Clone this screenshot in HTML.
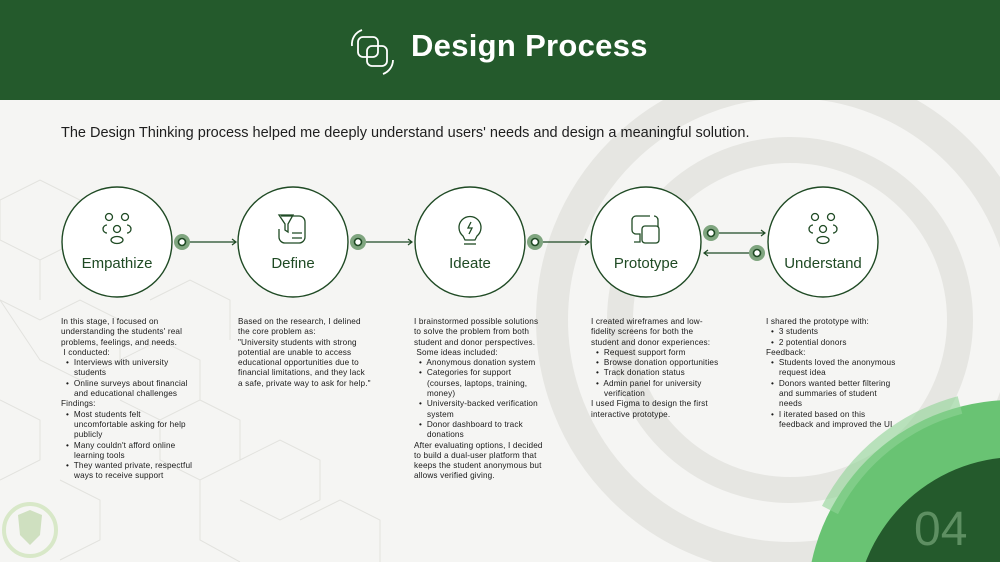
<!DOCTYPE html>
<html><head><meta charset="utf-8"><style>
body{margin:0;width:1000px;height:562px;overflow:hidden;background:#f5f5f3;font-family:"Liberation Sans",sans-serif;position:relative}
.title{position:absolute;left:411px;top:28px;color:#fff;font-size:31px;font-weight:bold;letter-spacing:0.3px}
.sub{position:absolute;left:61px;top:125px;font-size:14.5px;color:#1e1e1e}
.lbl{position:absolute;width:120px;text-align:center;font-size:15px;color:#1f4a24;top:255px}
.txt{position:absolute;font-size:8.2px;line-height:10.3px;color:#1a1a1a;top:317px;white-space:nowrap;letter-spacing:0.15px}
.i{padding-left:13px}
.b{padding-left:5px}
</style></head><body>
<svg width="1000" height="562" style="position:absolute;left:0;top:0">
<g fill="none" stroke="#e6e6e2">
<circle cx="790" cy="320" r="238" stroke-width="32"/>
<circle cx="790" cy="320" r="170" stroke-width="26"/>
</g>
<g fill="none" stroke="#e2e2de" stroke-width="1">
<path d="M0 200 L40 180 L80 200 L80 240 L40 260 L0 240 Z M40 260 L40 300 M0 300 L40 320 L80 300 L120 320 L120 360 L80 380 L40 360 Z M120 360 L160 340 L200 360 L200 400 L160 420 L120 400 M200 400 L240 420 L240 460 L200 480 L160 460 L160 420 M240 460 L280 440 L320 460 L320 500 L280 520 L240 500 M150 300 L190 280 L230 300 L230 340 M0 400 L40 420 L40 460 L0 480 M60 480 L100 500 L100 540 L60 560 M200 480 L200 540 L240 562 M300 520 L340 500 L380 520 L380 562"/>
</g>
<circle cx="1012" cy="605" r="205" fill="#69c373"/>
<path d="M830 510 A205 205 0 0 1 960 405" stroke="#8fd496" stroke-width="18" fill="none" opacity="0.6"/>
<circle cx="1018" cy="620" r="163" fill="#245a2c"/>
<text x="914" y="545" font-size="48" fill="#5e8f62" font-family="Liberation Sans,sans-serif">04</text>
<circle cx="30" cy="530" r="26" fill="none" stroke="#d8e8c8" stroke-width="4"/>
<path d="M18 515 L30 510 L42 515 L40 535 L30 545 L20 535 Z" fill="#cfe0c0"/>
<rect x="0" y="0" width="1000" height="100" fill="#245a2c"/>
<g fill="none" stroke="#fff" stroke-width="1.8">
<rect x="358" y="37" width="20" height="20" rx="5"/><rect x="367" y="46" width="20" height="20" rx="5"/>
<path d="M352 46 A15 15 0 0 1 362 30"/><path d="M393 60 A15 15 0 0 1 383 74"/>
</g>
<g stroke="#1f4a24" stroke-width="1.4" fill="#fff">
<circle cx="117" cy="242" r="55"/><circle cx="293" cy="242" r="55"/><circle cx="470" cy="242" r="55"/><circle cx="646" cy="242" r="55"/><circle cx="823" cy="242" r="55"/>
</g>
<g stroke="#1f4a24" stroke-width="1.2" fill="none">
<path d="M190 242 H236 M232 239 L236 242 L232 245"/>
<path d="M366 242 H412 M408 239 L412 242 L408 245"/>
<path d="M543 242 H589 M585 239 L589 242 L585 245"/>
<path d="M719 233 H765 M761 230 L765 233 L761 236"/>
<path d="M749 253 H704 M708 250 L704 253 L708 256"/>
</g>
<g>
<circle cx="182" cy="242" r="8" fill="#7fa57f"/><circle cx="182" cy="242" r="3.5" fill="#fff" stroke="#1f4a24" stroke-width="1.6"/>
<circle cx="358" cy="242" r="8" fill="#7fa57f"/><circle cx="358" cy="242" r="3.5" fill="#fff" stroke="#1f4a24" stroke-width="1.6"/>
<circle cx="535" cy="242" r="8" fill="#7fa57f"/><circle cx="535" cy="242" r="3.5" fill="#fff" stroke="#1f4a24" stroke-width="1.6"/>
<circle cx="711" cy="233" r="8" fill="#7fa57f"/><circle cx="711" cy="233" r="3.5" fill="#fff" stroke="#1f4a24" stroke-width="1.6"/>
<circle cx="757" cy="253" r="8" fill="#7fa57f"/><circle cx="757" cy="253" r="3.5" fill="#fff" stroke="#1f4a24" stroke-width="1.6"/>
</g>
<g stroke="#1f4a24" stroke-width="1.3" fill="none">
<circle cx="109" cy="217" r="3.5"/><circle cx="125" cy="217" r="3.5"/><circle cx="117" cy="229" r="3.5"/><ellipse cx="117" cy="240" rx="6" ry="3.5"/>
<path d="M107 225 A4 4 0 0 0 107 233 M127 225 A4 4 0 0 1 127 233"/>
<circle cx="815" cy="217" r="3.5"/><circle cx="831" cy="217" r="3.5"/><circle cx="823" cy="229" r="3.5"/><ellipse cx="823" cy="240" rx="6" ry="3.5"/>
<path d="M813 225 A4 4 0 0 0 813 233 M833 225 A4 4 0 0 1 833 233"/>
<path d="M281 216 H299 A6 6 0 0 1 305 222 V237 A6 6 0 0 1 299 243 H285 A6 6 0 0 1 279 237 V229"/>
<path d="M279 215 H293 L288 224 V232 L285 230 V224 Z"/><path d="M292 233 H302 M292 238 H302"/>
<path d="M463 236 A11 11 0 1 1 477 236 L475 240 H465 Z"/><path d="M464 244 H476"/><path d="M471 222 L468 228 H472 L469 234"/>
<path d="M650 216 H636 A4 4 0 0 0 632 220 V230 A4 4 0 0 0 636 234 H640 V242 H634 M654 216 A4 4 0 0 1 658 220 V227"/>
<rect x="642" y="226" width="17" height="17" rx="3"/>
</g>
</svg>
<div class="title">Design Process</div>
<div class="sub">The Design Thinking process helped me deeply understand users' needs and design a meaningful solution.</div>
<div class="lbl" style="left:57px">Empathize</div>
<div class="lbl" style="left:233px">Define</div>
<div class="lbl" style="left:410px">Ideate</div>
<div class="lbl" style="left:586px">Prototype</div>
<div class="lbl" style="left:763px">Understand</div>
<div class="txt" style="left:61px">In this stage, I focused on<br>understanding the students' real<br>problems, feelings, and needs.<br>&nbsp;I conducted:<br><span class="b">•&nbsp; Interviews with university</span><br><span class="i">students</span><br><span class="b">•&nbsp; Online surveys about financial</span><br><span class="i">and educational challenges</span><br>Findings:<br><span class="b">•&nbsp; Most students felt</span><br><span class="i">uncomfortable asking for help</span><br><span class="i">publicly</span><br><span class="b">•&nbsp; Many couldn't afford online</span><br><span class="i">learning tools</span><br><span class="b">•&nbsp; They wanted private, respectful</span><br><span class="i">ways to receive support</span></div>
<div class="txt" style="left:238px">Based on the research, I delined<br>the core problem as:<br>"University students with strong<br>potential are unable to access<br>educational opportunities due to<br>financial limitations, and they lack<br>a safe, private way to ask for help."</div>
<div class="txt" style="left:414px">I brainstormed possible solutions<br>to solve the problem from both<br>student and donor perspectives.<br>&nbsp;Some ideas included:<br><span class="b">•&nbsp; Anonymous donation system</span><br><span class="b">•&nbsp; Categories for support</span><br><span class="i">(courses, laptops, training,</span><br><span class="i">money)</span><br><span class="b">•&nbsp; University-backed verification</span><br><span class="i">system</span><br><span class="b">•&nbsp; Donor dashboard to track</span><br><span class="i">donations</span><br>After evaluating options, I decided<br>to build a dual-user platform that<br>keeps the student anonymous but<br>allows verified giving.</div>
<div class="txt" style="left:591px">I created wireframes and low-<br>fidelity screens for both the<br>student and donor experiences:<br><span class="b">•&nbsp; Request support form</span><br><span class="b">•&nbsp; Browse donation opportunities</span><br><span class="b">•&nbsp; Track donation status</span><br><span class="b">•&nbsp; Admin panel for university</span><br><span class="i">verification</span><br>I used Figma to design the first<br>interactive prototype.</div>
<div class="txt" style="left:766px">I shared the prototype with:<br><span class="b">•&nbsp; 3 students</span><br><span class="b">•&nbsp; 2 potential donors</span><br>Feedback:<br><span class="b">•&nbsp; Students loved the anonymous</span><br><span class="i">request idea</span><br><span class="b">•&nbsp; Donors wanted better filtering</span><br><span class="i">and summaries of student</span><br><span class="i">needs</span><br><span class="b">•&nbsp; I iterated based on this</span><br><span class="i">feedback and improved the UI</span></div>
</body></html>
